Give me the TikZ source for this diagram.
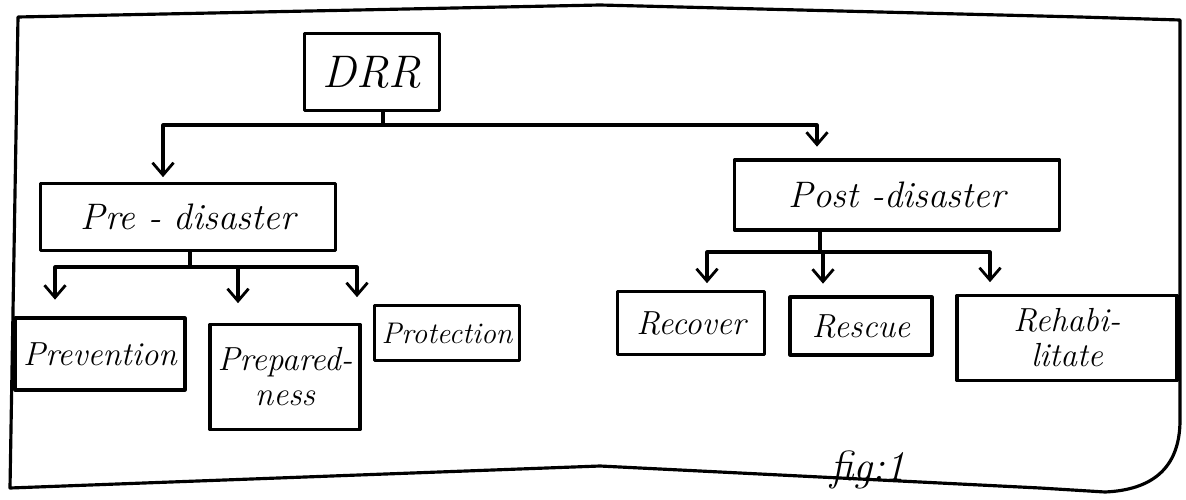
\documentclass[tikz,border=0pt]{standalone}
\usetikzlibrary{arrows.meta,calc}
\begin{document}
\begin{tikzpicture}[x=0.02cm,y=-0.02cm,
  ink/.style={line width=1.8pt,line cap=round,line join=round},
  box/.style={ink,draw,rectangle,inner sep=2pt,align=center,font=\itshape\fontsize{21}{22}\selectfont},
  arr/.style={ink,-{Straight Barb[length=7pt,width=12pt,line width=1.6pt]},shorten >=1pt},
  lbl/.style={font=\itshape\fontsize{24}{26}\selectfont}]
\useasboundingbox (0,0) rectangle (1186,500);
% outer frame
\draw[ink] (18,17) -- (600,5) -- (1080,17) -- (1180,20) -- (1180,420)
  .. controls (1180,470) and (1150,490) .. (1105,492) -- (1040,488) -- (600,466) -- (10,488) -- cycle;
% nodes
\node[box,minimum width=2.7cm,minimum height=1.54cm,font=\itshape\fontsize{26}{28}\selectfont] (drr) at (372,72) {DRR};
\node[box,minimum width=5.9cm,minimum height=1.34cm] (pre) at (188,217) {Pre - disaster};
\node[box,minimum width=6.5cm,minimum height=1.4cm] (post) at (897,195) {Post -disaster};
\node[box,minimum width=3.4cm,minimum height=1.44cm,font=\itshape\fontsize{19}{20}\selectfont] (prev) at (100,354) {Prevention};
\node[box,minimum width=3cm,minimum height=2.1cm,font=\itshape\fontsize{19}{20}\selectfont] (prep) at (285,377) {Prepared-\\ness};
\node[box,minimum width=2.9cm,minimum height=1.1cm,font=\itshape\fontsize{17}{18}\selectfont] (prot) at (447,333) {Protection};
\node[box,minimum width=2.94cm,minimum height=1.26cm,font=\itshape\fontsize{19}{20}\selectfont] (rec) at (691,323) {Recover};
\node[box,minimum width=2.84cm,minimum height=1.16cm,font=\itshape\fontsize{19}{20}\selectfont] (res) at (861,326) {Rescue};
\node[box,minimum width=4.4cm,minimum height=1.7cm,font=\itshape\fontsize{19}{20}\selectfont] (reh) at (1067,338) {Rehabi-\\litate};
\node[lbl] (fig) at (868,470) {fig:1};
% DRR branches
\coordinate (j0) at (383,125);
\draw[ink] (drr.south -| j0) -- (j0);
\draw[arr] (j0) -| ([xshift=-0.5cm,yshift=0.06cm]pre.north);
\draw[arr] (j0) -| ([xshift=-1.6cm,yshift=0.2cm]post.north);
% Pre-disaster branches
\coordinate (j1) at (190,267);
\draw[ink] (pre.south -| j1) -- (j1);
\draw[arr] (j1) -| ([xshift=-0.9cm,yshift=0.3cm]prev.north);
\draw[arr] (j1) -| ([xshift=-0.94cm,yshift=0.36cm]prep.north);
\draw[arr] (j1) -| ([xshift=-1.8cm,yshift=0.1cm]prot.north);
% Post-disaster branches
\coordinate (j2) at (820,252);
\draw[ink] (post.south -| j2) -- (j2);
\draw[arr] (j2) -| ([xshift=0.32cm,yshift=0.1cm]rec.north);
\draw[arr] (j2) -| ([xshift=-0.76cm,yshift=0.2cm]res.north);
\draw[arr] (j2) -| ([xshift=-1.54cm,yshift=0.2cm]reh.north);
\end{tikzpicture}
\end{document}
